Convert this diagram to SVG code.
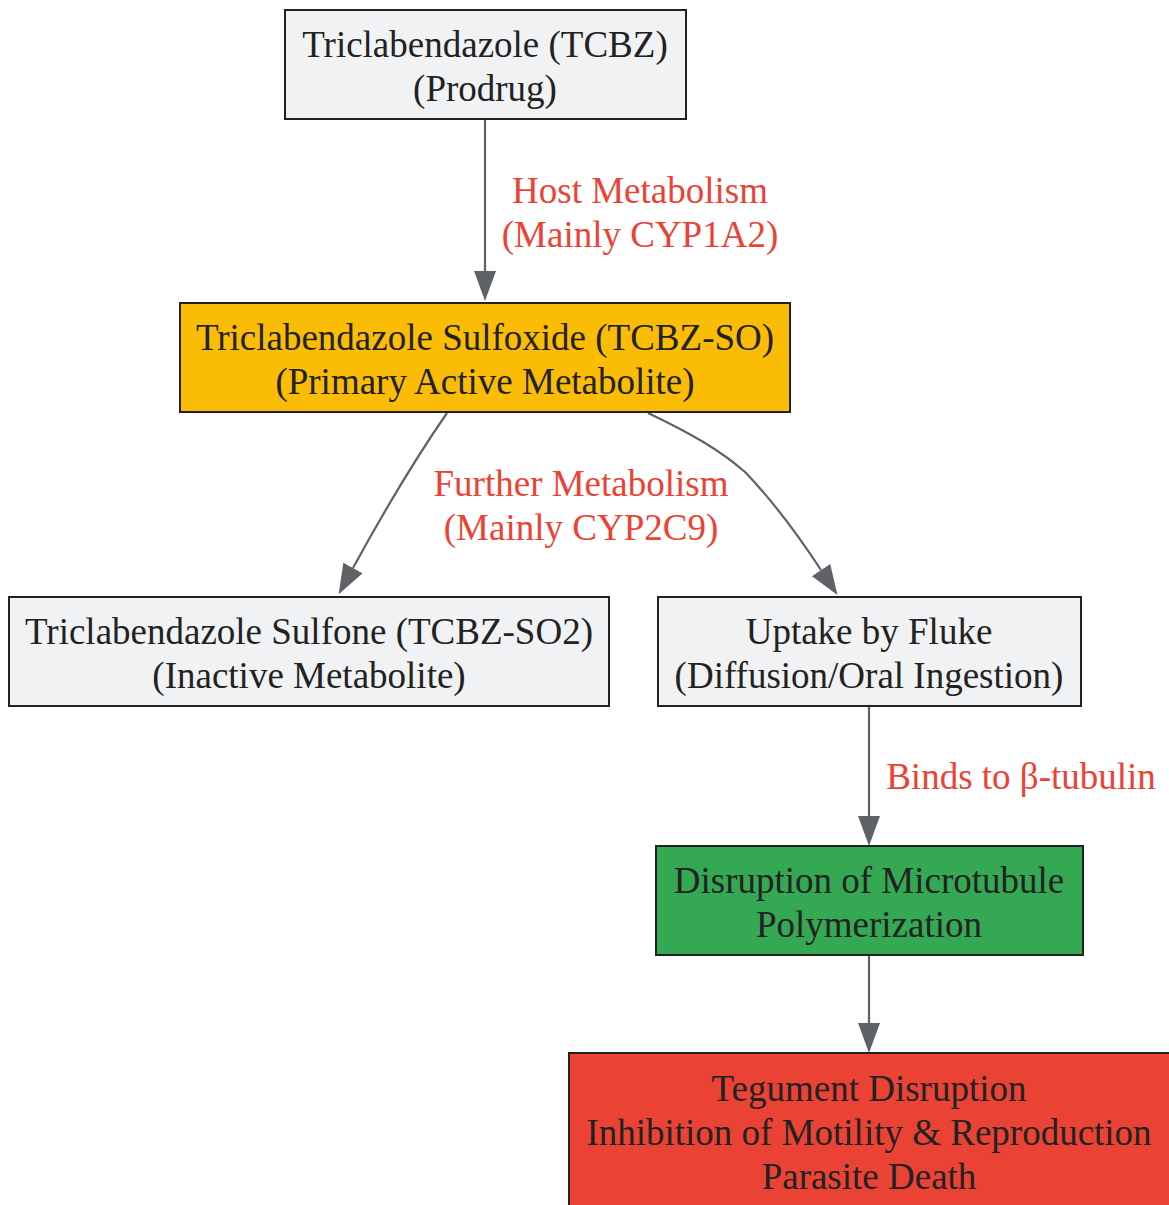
<svg xmlns="http://www.w3.org/2000/svg" width="1169" height="1205" viewBox="0 0 1169 1205">
<style>
.n rect{stroke:#222;stroke-width:2}
.t{font-family:"Liberation Serif","Times New Roman",serif;font-size:37px;fill:#222;text-anchor:middle}
.l{font-family:"Liberation Serif","Times New Roman",serif;font-size:37px;fill:#ea4335;text-anchor:middle}
.e{fill:none;stroke:#5f6368;stroke-width:2.2;marker-end:url(#ah)}
</style>
<defs>
<marker id="ah" markerUnits="userSpaceOnUse" markerWidth="30" markerHeight="22" refX="0" refY="11" orient="auto" viewBox="0 0 30 22">
<path d="M0,0 L30,11 L0,22 z" fill="#5f6368"/>
</marker>
</defs>
<rect width="1169" height="1205" fill="#fff"/>
<g id="connectors">
<path class="e" d="M485,119 L485,271"/>
<path class="e" d="M447,413 C420,452 383,513 353,568"/>
<path class="e" d="M648,413 C690,433 720,450 745,472 C772,500 800,538 821,570"/>
<path class="e" d="M869,706 L869,816"/>
<path class="e" d="M869,955 L869,1023"/>
<text class="l" x="640" y="203">Host Metabolism</text>
<text class="l" x="640" y="247">(Mainly CYP1A2)</text>
<text class="l" x="581" y="496">Further Metabolism</text>
<text class="l" x="581" y="540">(Mainly CYP2C9)</text>
<text class="l" x="1021" y="789">Binds to β-tubulin</text>
</g>
<g id="tcbz" class="n"><rect x="285" y="10" width="401" height="109" fill="#f1f2f4"/>
<text class="t" x="485" y="57">Triclabendazole (TCBZ)</text><text class="t" x="485" y="101">(Prodrug)</text></g>
<g id="tcbzso" class="n"><rect x="180" y="303" width="610" height="109" fill="#fbbc05"/>
<text class="t" x="485" y="350">Triclabendazole Sulfoxide (TCBZ-SO)</text><text class="t" x="485" y="394">(Primary Active Metabolite)</text></g>
<g id="sulfone" class="n"><rect x="9" y="597" width="600" height="109" fill="#f1f2f4"/>
<text class="t" x="309" y="644">Triclabendazole Sulfone (TCBZ-SO2)</text><text class="t" x="309" y="688">(Inactive Metabolite)</text></g>
<g id="uptake" class="n"><rect x="658" y="597" width="423" height="109" fill="#f1f2f4"/>
<text class="t" x="869" y="644">Uptake by Fluke</text><text class="t" x="869" y="688">(Diffusion/Oral Ingestion)</text></g>
<g id="disruption" class="n"><rect x="656" y="846" width="427" height="109" fill="#34a853"/>
<text class="t" x="869" y="893">Disruption of Microtubule</text><text class="t" x="869" y="937">Polymerization</text></g>
<g id="death" class="n"><rect x="569" y="1053" width="610" height="170" fill="#ea4335"/>
<text class="t" x="869" y="1101">Tegument Disruption</text><text class="t" x="869" y="1145">Inhibition of Motility &amp; Reproduction</text><text class="t" x="869" y="1189">Parasite Death</text></g>
</svg>
